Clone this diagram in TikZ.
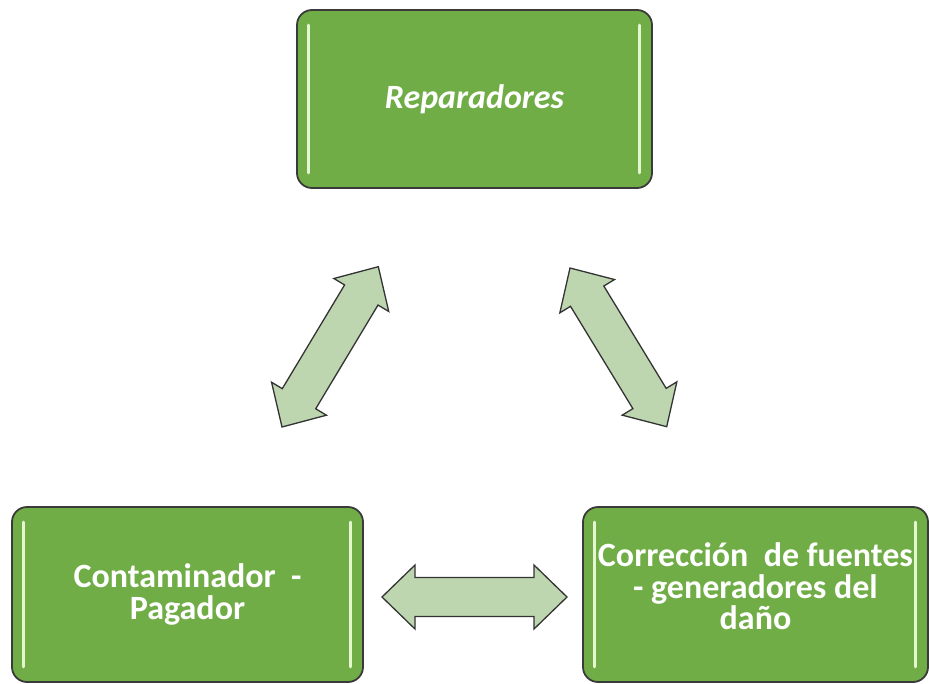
\documentclass[tikz,border=0pt]{standalone}
\usepackage{fontspec}
\setmainfont{Carlito}
\usetikzlibrary{calc}
\definecolor{boxgreen}{HTML}{70AD47}
\definecolor{boxedge}{HTML}{3A3A3A}
\definecolor{glint}{HTML}{E4F7D0}
\definecolor{arrowfill}{HTML}{BDD6B0}
\definecolor{arrowedge}{HTML}{333333}
\tikzset{
  greenbox/.style={draw=boxedge, line width=1.8pt, fill=boxgreen, rounded corners=15pt,
    text=white, font=\bfseries\fontsize{34}{31.5}\selectfont, align=center, inner sep=0pt},
  glintline/.style={draw=glint, line width=3pt, line cap=round},
  blockarrow/.style={draw=arrowedge, line width=1.3pt, fill=arrowfill, line join=miter},
}
\newcommand\boxglints[1]{%
  \draw[glintline] ([xshift=12pt,yshift=-16pt]#1.north west) -- ([xshift=12pt,yshift=16pt]#1.south west);
  \draw[glintline] ([xshift=-13pt,yshift=-16pt]#1.north east) -- ([xshift=-13pt,yshift=16pt]#1.south east);
}
\newcommand\dblarrow[2]{%
  \path[blockarrow] let \p1=($(#2)-(#1)$), \n1={atan2(\y1,\x1)}, \n2={veclen(\x1,\y1)} in
    [shift={(#1)}, rotate=\n1]
    (0,0) -- (33,32) -- (33,19.5) -- ({\n2-33},19.5) -- ({\n2-33},32) -- (\n2,0)
    -- ({\n2-33},-32) -- ({\n2-33},-19.5) -- (33,-19.5) -- (33,-32) -- cycle;
}
\begin{document}
\begin{tikzpicture}[x=1pt,y=-1pt]
  \useasboundingbox (0,0) rectangle (929,683);
  % boxes
  \node[greenbox, minimum width=355pt, minimum height=178pt] (rep) at (474.5,99)
    {\itshape Reparadores};
  \node[greenbox, minimum width=351pt, minimum height=175pt] (cont) at (187.5,594.5)
    {Contaminador\ \ -\\Pagador};
  \node[greenbox, minimum width=345pt, minimum height=175pt] (corr) at (755.5,594.5) {};
  \node[text=white, font=\bfseries\fontsize{34}{31.5}\selectfont, align=center, inner sep=0pt]
    (corrtext) at ([yshift=8pt]corr.center) {Corrección\ \ de fuentes\\- generadores del\\daño};
  \boxglints{rep}
  \boxglints{cont}
  \boxglints{corr}
  % arrow end points
  \coordinate (la) at (282,427);
  \coordinate (lb) at (378.3,266.7);
  \coordinate (ra) at (570,268);
  \coordinate (rb) at (666.7,426.7);
  \coordinate (ha) at (382,597);
  \coordinate (hb) at (567,597);
  \dblarrow{la}{lb}
  \dblarrow{ra}{rb}
  \dblarrow{ha}{hb}
\end{tikzpicture}
\end{document}
